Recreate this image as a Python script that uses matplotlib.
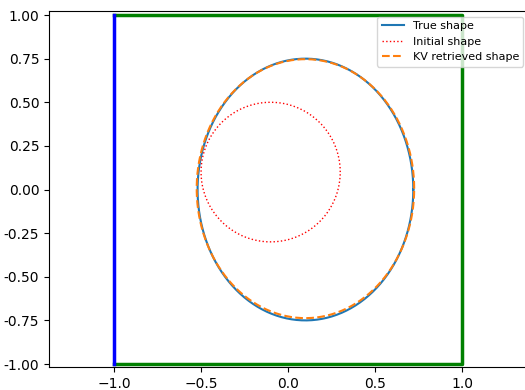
import numpy as np
import matplotlib
matplotlib.use("Agg")
import matplotlib.pyplot as plt

# Shape parameters (center x, center y, semi-axis x, semi-axis y)
true_shape = [0.10, 0.00, 0.62, 0.75]
initial_shape = [-0.10, 0.10, 0.40, 0.40]
kv_shape = [0.10, 0.005, 0.625, 0.742]

# Boundary square
left_x = [-1, -1]
left_y = [-1, 1]
other_x = [-1, 1, 1, -1]
other_y = [1, 1, -1, -1]

yticks = [1.00, 0.75, 0.50, 0.25, 0.00, -0.25, -0.50, -0.75, -1.00]
xticks = [-1.0, -0.5, 0.0, 0.5, 1.0]

t = np.linspace(0, 2 * np.pi, 400)

def curve(p):
    cx, cy, ax_, ay_ = p
    return cx + ax_ * np.cos(t), cy + ay_ * np.sin(t)

fig = plt.figure(figsize=(5.25, 3.9), dpi=100)
ax = fig.add_axes([49 / 525, (390 - 367) / 390, 480 / 525, 356 / 390])

ax.plot(other_x, other_y, color='g', lw=2.5)
ax.plot(left_x, left_y, color='b', lw=2.5)

x, y = curve(true_shape)
ax.plot(x, y, color='C0', lw=1.5, label='True shape')
x, y = curve(initial_shape)
ax.plot(x, y, color='red', ls=':', lw=1, label='Initial shape')
x, y = curve(kv_shape)
ax.plot(x, y, color='C1', ls='--', lw=1.5, label='KV retrieved shape')

ax.set_xlim(-1.374, 1.385)
ax.set_ylim(-1.017, 1.023)
ax.set_xticks(xticks)
ax.set_yticks(yticks)
ax.set_yticklabels([f"{v:.2f}" for v in yticks])
ax.legend(loc='upper right', fontsize=8)

fig.savefig('out.png', dpi=100)
